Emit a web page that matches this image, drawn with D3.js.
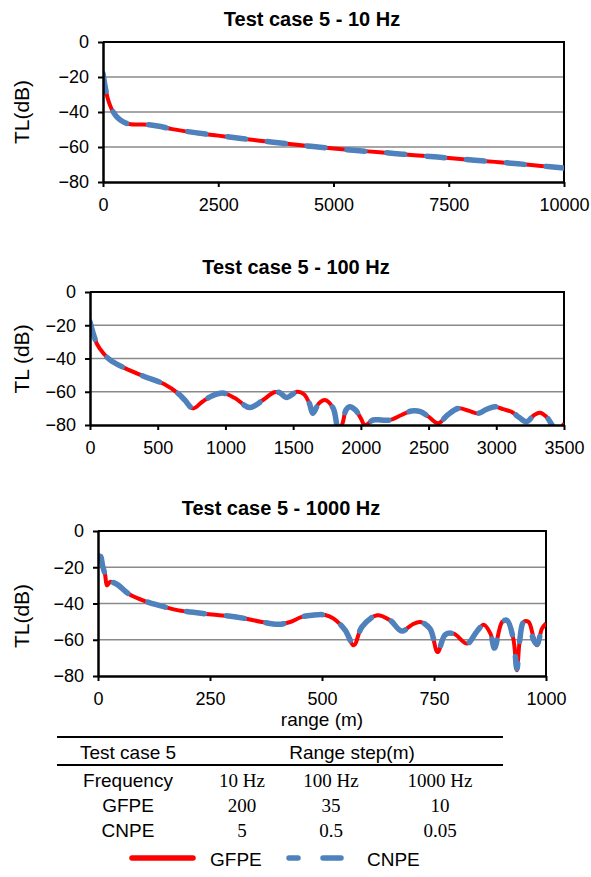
<!DOCTYPE html>
<html lang="en">

<head>
    <meta charset="UTF-8">
    <title>Test case 5</title>
    <script src="https://d3js.org/d3.v7.min.js"></script>
    <style>
        body { margin: 0; background: #fff; }
        text { font-family: "Liberation Sans", Arial, sans-serif; }
    </style>
</head>

<body>
    <script>
        var width = 591, height = 877;

        // ---- data ----
        var yTicks = [0, -20, -40, -60, -80];

        var xs10 = [0, 50, 100, 150, 200, 300, 400, 500, 600, 800, 1000, 1250, 1500, 2000, 2500, 3000, 3500, 4000, 4500, 5000, 5500, 6000, 6500, 7000, 7500, 8000, 8500, 9000, 9500, 10000];
        var gfpe10 = [-18, -26, -32, -36, -39, -42.8, -45, -46.4, -47, -47.1, -47.3, -48.3, -49.8, -51.8, -53.5, -55.2, -56.7, -58.2, -59.6, -60.9, -62, -63, -64.1, -65.2, -66.3, -67.4, -68.5, -69.6, -70.8, -72];
        var cnpe10 = [-18, -26, -32, -36, -39, -42.8, -45, -46.4, -47, -47.1, -47.3, -48.3, -49.8, -51.8, -53.5, -55.2, -56.7, -58.2, -59.6, -60.9, -62, -63, -64.1, -65.2, -66.3, -67.4, -68.5, -69.6, -70.8, -72];
        var xTicks10 = [0, 2500, 5000, 7500, 10000];

        var xs100 = [0, 50, 100, 150, 250, 400, 550, 650, 700, 760, 830, 900, 980, 1070, 1180, 1280, 1360, 1400, 1450, 1530, 1580, 1620, 1645, 1690, 1734, 1796, 1833, 1860, 1890, 1918, 1960, 2000, 2030, 2091, 2150, 2214, 2300, 2374, 2440, 2500, 2571, 2640, 2719, 2800, 2866, 2930, 2989, 3050, 3112, 3170, 3223, 3280, 3321, 3370, 3420, 3456, 3500];
        var gfpe100 = [-18, -31, -37, -41, -45.5, -50.8, -55.5, -61, -65, -70, -66, -62.5, -60.8, -63.8, -69.5, -64.8, -60.3, -60.5, -63.5, -60, -61.5, -67, -73, -67, -65, -70, -82, -80, -71, -69, -71, -76, -80, -77, -77, -77, -74, -71.6, -72, -75, -79, -74, -70, -71.5, -73, -70.5, -69, -70.5, -72, -75.5, -78, -74, -72.6, -75, -81, -84, -79];
        var cnpe100 = [-18, -31, -37, -41, -45.5, -50.8, -55.5, -61, -65, -70, -66, -62.5, -60.8, -63.8, -69.5, -64.8, -60.3, -60.5, -63.5, -60, -61.5, -67, -73, -67, -65, -70, -82, -80, -71, -69, -71, -76, -80, -77, -77, -77, -74, -71.6, -72, -75, -79, -74, -70, -71.5, -73, -70.5, -69, -70.5, -72, -75.5, -78, -74, -72.6, -75, -81, -84, -79];
        var xTicks100 = [0, 500, 1000, 1500, 2000, 2500, 3000, 3500];

        var xs1000 = [2, 6, 10, 16, 20, 27, 35, 46, 68, 106, 143, 180, 217, 254, 292, 329, 366, 403, 429, 455, 478, 507, 526, 552, 571, 589, 623, 652, 678, 701, 719, 741, 758, 775, 794, 824, 846, 861, 876, 885, 902, 913, 927, 935, 941, 950, 961, 972, 980, 991, 1000];
        var gfpe1000 = [-14.5, -14, -19, -24.4, -30, -28.1, -28.5, -30, -34.6, -38.8, -41.5, -43.8, -45, -46.1, -46.9, -48.3, -50.2, -51.5, -50.2, -47.4, -46.5, -46.3, -48.3, -54.8, -63.1, -53, -46.5, -49.3, -55.2, -51.7, -50.2, -53.9, -66.8, -57.2, -56.6, -62.1, -55.3, -51.7, -56.6, -64.6, -50.2, -49.3, -59.4, -76.8, -61.2, -50.2, -50.2, -58.5, -63.1, -53.9, -51];
        var cnpe1000 = [-14.5, -14, -19, -24.4, -30, -28.1, -28.5, -30, -34.6, -38.8, -41.5, -43.8, -45, -46.1, -46.9, -48.3, -50.2, -51.5, -50.2, -47.4, -46.5, -46.3, -48.3, -54.8, -63.1, -53, -46.5, -49.3, -55.2, -51.7, -50.2, -53.9, -66.8, -57.2, -56.6, -62.1, -55.3, -51.7, -56.6, -64.6, -50.2, -49.3, -59.4, -76, -61.2, -50.2, -50.2, -60, -62.5, -53.9, -51];
        var xTicks1000 = [0, 250, 500, 750, 1000];

        // table
        var tableHead = ['Test case 5', 'Range step(m)'];
        var freqs = ['10 Hz', '100 Hz', '1000 Hz'];
        var gfpeSteps = ['200', '35', '10'];
        var cnpeSteps = ['5', '0.5', '0.05'];
        var seriesNames = ['GFPE', 'CNPE'];

        var red = '#ff0000', blue = '#4f81bd';

        var svg = d3.select('body').append('svg').attr('width', width).attr('height', height);

        function drawChart(c) {
            var g = svg.append('g');
            var x = d3.scaleLinear().domain([0, c.xMax]).range([c.left, c.right]);
            var y = d3.scaleLinear().domain([-80, 0]).range([c.bottom, c.top]);

            // gridlines
            g.selectAll('line.grid').data(yTicks.filter(function (d) { return d > -80 && d < 0; }))
                .join('line').attr('class', 'grid')
                .attr('x1', c.left).attr('x2', c.right)
                .attr('y1', function (d) { return y(d); }).attr('y2', function (d) { return y(d); })
                .attr('stroke', '#8a8a8a').attr('stroke-width', 1.5);

            // plot border (top + right)
            g.append('path')
                .attr('d', 'M' + c.left + ',' + y(0) + 'H' + c.right + 'V' + y(-80))
                .attr('fill', 'none').attr('stroke', '#000').attr('stroke-width', 2);

            // lines
            var clipId = 'clip' + c.id;
            svg.append('clipPath').attr('id', clipId).append('rect')
                .attr('x', c.left).attr('y', c.top).attr('width', c.right - c.left).attr('height', c.bottom - c.top);

            var line = d3.line().curve(d3.curveCatmullRom.alpha(0.5))
                .x(function (d) { return x(d[0]); }).y(function (d) { return y(d[1]); });

            g.append('path').datum(d3.zip(c.xs, c.gfpe))
                .attr('clip-path', 'url(#' + clipId + ')')
                .attr('d', line).attr('fill', 'none')
                .attr('stroke', red).attr('stroke-width', 4);
            g.append('path').datum(d3.zip(c.xs, c.cnpe))
                .attr('clip-path', 'url(#' + clipId + ')')
                .attr('d', line).attr('fill', 'none')
                .attr('stroke', blue).attr('stroke-width', 5.5)
                .attr('stroke-linecap', 'round')
                .attr('stroke-dasharray', '18,22');

            // axes
            var ya = g.append('g').attr('transform', 'translate(' + c.left + ',0)')
                .call(d3.axisLeft(y).tickValues(yTicks).tickSize(5).tickSizeOuter(0).tickPadding(9));
            var xa = g.append('g').attr('transform', 'translate(0,' + c.bottom + ')')
                .call(d3.axisBottom(x).tickValues(c.xTicks).tickFormat(d3.format('d')).tickSize(5).tickSizeOuter(0).tickPadding(11));
            [ya, xa].forEach(function (a) {
                a.attr('font-family', '"Liberation Sans", Arial, sans-serif').attr('font-size', 18);
                a.select('.domain').attr('stroke-width', 2.5);
                a.selectAll('.tick line').attr('stroke-width', 2);
                a.selectAll('.tick text').attr('fill', '#000');
            });

            // title
            g.append('text').attr('x', c.titleX).attr('y', c.titleY)
                .attr('text-anchor', 'middle').attr('font-weight', 'bold').attr('font-size', 20)
                .text(c.title);

            // y title
            g.append('text').attr('transform', 'translate(22,' + c.yTitleY + ') rotate(-90)')
                .attr('dy', '0.35em').attr('text-anchor', 'middle').attr('font-size', 21)
                .text(c.yTitle);

            if (c.xTitle) {
                g.append('text').attr('x', c.xTitleX).attr('y', c.xTitleY)
                    .attr('text-anchor', 'middle').attr('font-size', 19).text(c.xTitle);
            }
        }

        drawChart({
            id: 1, xMax: 10000, left: 103, right: 564, top: 42, bottom: 182,
            xs: xs10, gfpe: gfpe10, cnpe: cnpe10, xTicks: xTicks10,
            title: 'Test case 5 - 10 Hz', titleX: 312, titleY: 26,
            yTitle: 'TL(dB)', yTitleY: 112
        });
        drawChart({
            id: 2, xMax: 3500, left: 90, right: 564, top: 292, bottom: 425,
            xs: xs100, gfpe: gfpe100, cnpe: cnpe100, xTicks: xTicks100,
            title: 'Test case 5 - 100 Hz', titleX: 296, titleY: 274,
            yTitle: 'TL (dB)', yTitleY: 359
        });
        drawChart({
            id: 3, xMax: 1000, left: 98, right: 546, top: 531, bottom: 676,
            xs: xs1000, gfpe: gfpe1000, cnpe: cnpe1000, xTicks: xTicks1000,
            title: 'Test case 5 - 1000 Hz', titleX: 281, titleY: 515,
            yTitle: 'TL(dB)', yTitleY: 616,
            xTitle: 'range (m)', xTitleX: 322, xTitleY: 726
        });

        // ---- table ----
        var tb = svg.append('g');
        tb.append('line').attr('x1', 57).attr('x2', 503).attr('y1', 737).attr('y2', 737)
            .attr('stroke', '#000').attr('stroke-width', 2);
        tb.append('line').attr('x1', 57).attr('x2', 503).attr('y1', 765).attr('y2', 765)
            .attr('stroke', '#000').attr('stroke-width', 2);

        var colX = [242, 331, 440];
        tb.append('text').attr('x', 128).attr('y', 759).attr('text-anchor', 'middle').attr('font-size', 19).text(tableHead[0]);
        tb.append('text').attr('x', 352).attr('y', 759).attr('text-anchor', 'middle').attr('font-size', 19).text(tableHead[1]);

        var rows = [
            { label: 'Frequency', vals: freqs, y: 787 },
            { label: seriesNames[0], vals: gfpeSteps, y: 812 },
            { label: seriesNames[1], vals: cnpeSteps, y: 837 }
        ];
        rows.forEach(function (r) {
            tb.append('text').attr('x', 128).attr('y', r.y).attr('text-anchor', 'middle')
                .attr('font-size', 19).text(r.label);
            tb.selectAll(null).data(r.vals).join('text')
                .attr('x', function (d, i) { return colX[i]; }).attr('y', r.y)
                .attr('text-anchor', 'middle').attr('font-size', 19)
                .style('font-family', '"Liberation Serif", "Times New Roman", serif')
                .text(function (d) { return d; });
        });

        // ---- legend ----
        var lg = svg.append('g');
        lg.append('line').attr('x1', 132).attr('x2', 193).attr('y1', 858).attr('y2', 858)
            .attr('stroke', red).attr('stroke-width', 5.5).attr('stroke-linecap', 'round');
        lg.append('text').attr('x', 210).attr('y', 866).attr('font-size', 19).text(seriesNames[0]);
        lg.append('line').attr('x1', 289).attr('x2', 341).attr('y1', 858).attr('y2', 858)
            .attr('stroke', blue).attr('stroke-width', 5.5).attr('stroke-linecap', 'round')
            .attr('stroke-dasharray', '9,25,18');
        lg.append('text').attr('x', 367).attr('y', 866).attr('font-size', 19).text(seriesNames[1]);

        console.log('ready..');
    </script>
</body>

</html>
